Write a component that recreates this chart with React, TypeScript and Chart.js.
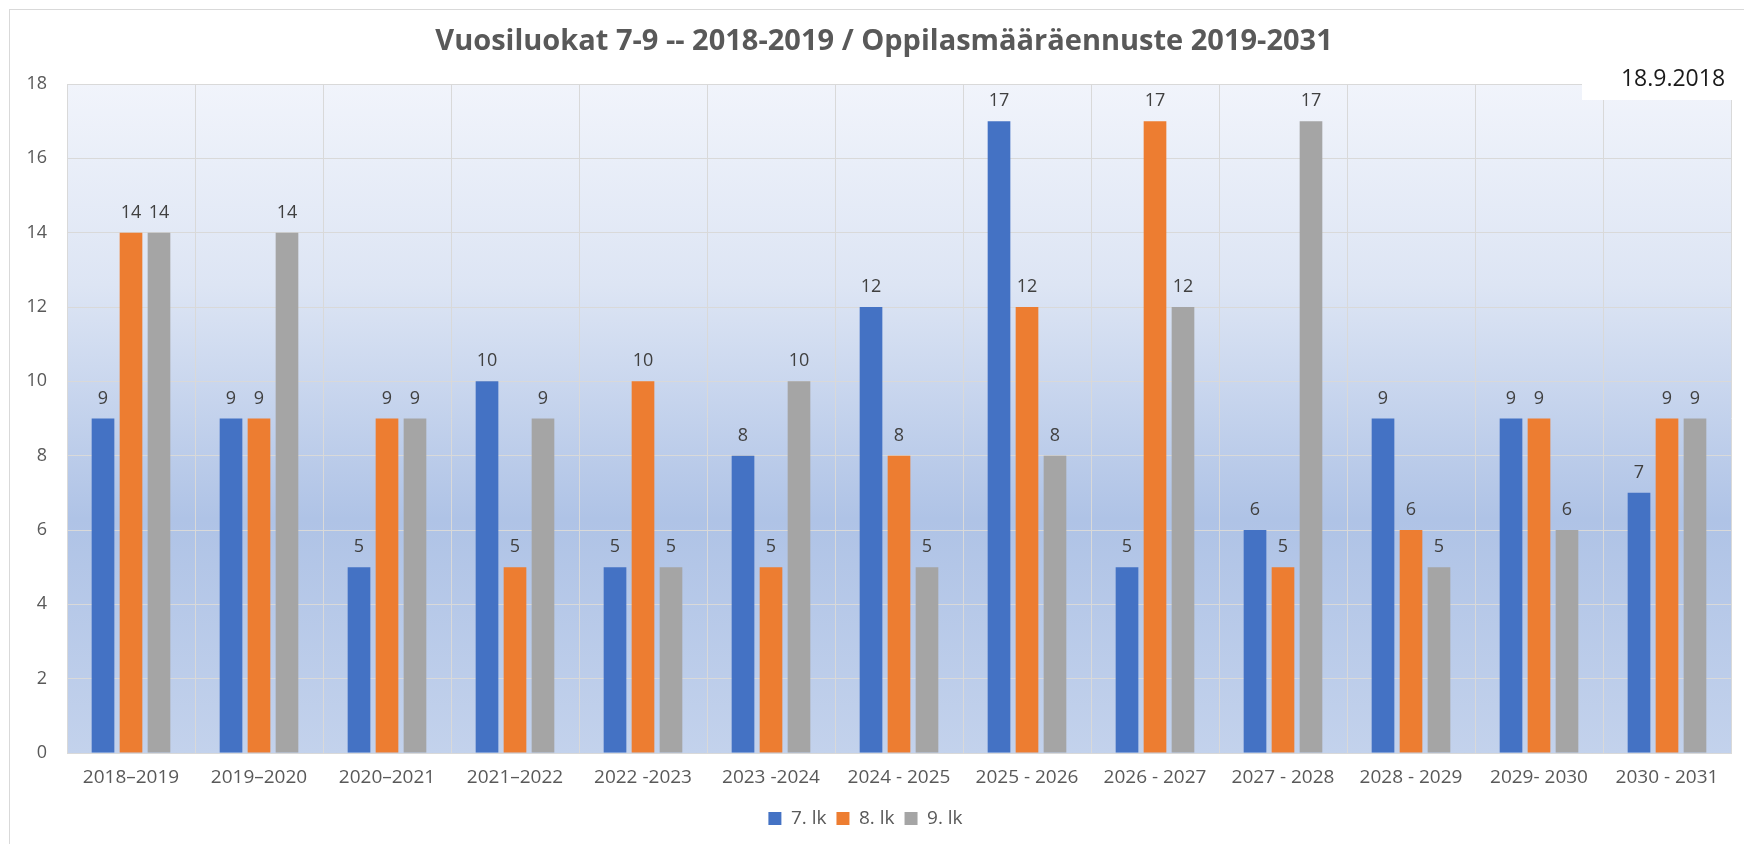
import React, { useEffect, useRef } from "react";
import { Chart, registerables } from "chart.js";

Chart.register(...registerables);

const TITLE = "Vuosiluokat 7-9 -- 2018-2019 / Oppilasmääräennuste 2019-2031";
const DATE_NOTE = "18.9.2018";

const categories = [
  "2018\u20132019",
  "2019\u20132020",
  "2020\u20132021",
  "2021\u20132022",
  "2022 -2023",
  "2023 -2024",
  "2024 - 2025",
  "2025 - 2026",
  "2026 - 2027",
  "2027 - 2028",
  "2028 - 2029",
  "2029- 2030",
  "2030 - 2031",
];

const seriesNames = ["7. lk", "8. lk", "9. lk"];
const grade7 = [9, 9, 5, 10, 5, 8, 12, 17, 5, 6, 9, 9, 7];
const grade8 = [14, 9, 9, 5, 10, 5, 8, 12, 17, 5, 6, 9, 9];
const grade9 = [14, 14, 9, 9, 5, 10, 5, 8, 12, 17, 5, 6, 9];
const seriesColors = ["#4472C4", "#ED7D31", "#A5A5A5"];

const yMin = 0;
const yMax = 18;
const yStep = 2;

const FONT = "'Open Sans', 'Noto Sans', sans-serif";

const backgroundPlugin = {
  id: "bgPlugin",
  beforeDraw(chart: any) {
    const { ctx, chartArea, width, height } = chart;
    ctx.save();
    ctx.fillStyle = "#ffffff";
    ctx.fillRect(0, 0, width, height);
    ctx.strokeStyle = "#d9d9d9";
    ctx.lineWidth = 1;
    ctx.strokeRect(9.5, 9.5, width + 20, height + 20);
    const g = ctx.createLinearGradient(0, chartArea.top, 0, chartArea.bottom);
    g.addColorStop(0, "#f1f4fb");
    g.addColorStop(0.3, "#dde5f4");
    g.addColorStop(0.65, "#afc3e6");
    g.addColorStop(1, "#c3d2ec");
    ctx.fillStyle = g;
    ctx.fillRect(chartArea.left, chartArea.top, chartArea.right - chartArea.left, chartArea.bottom - chartArea.top);
    ctx.fillStyle = "#595959";
    ctx.font = `bold 29px ${FONT}`;
    ctx.textAlign = "center";
    ctx.textBaseline = "middle";
    ctx.fillText(TITLE, 884, 42);
    ctx.restore();
  },
};

const labelsPlugin = {
  id: "valueLabels",
  afterDatasetsDraw(chart: any) {
    const { ctx } = chart;
    ctx.save();
    ctx.fillStyle = "#404040";
    ctx.font = `18px ${FONT}`;
    ctx.textAlign = "center";
    ctx.textBaseline = "middle";
    chart.data.datasets.forEach((ds: any, i: number) => {
      const meta = chart.getDatasetMeta(i);
      meta.data.forEach((el: any, j: number) => {
        ctx.fillText(String(ds.data[j]), el.x, el.y - 20);
      });
    });
    ctx.restore();
  },
  afterDraw(chart: any) {
    const { ctx } = chart;
    ctx.save();
    ctx.fillStyle = "#ffffff";
    ctx.fillRect(1582, 10, 150, 90);
    ctx.fillStyle = "#1a1a1a";
    ctx.font = `23px ${FONT}`;
    ctx.textAlign = "center";
    ctx.textBaseline = "middle";
    ctx.fillText(DATE_NOTE, 1673, 79);
    ctx.restore();
  },
};

export default function App() {
  const ref = useRef<HTMLCanvasElement | null>(null);

  useEffect(() => {
    if (!ref.current) return;
    const chart = new Chart(ref.current, {
      type: "bar",
      data: {
        labels: categories,
        datasets: [grade7, grade8, grade9].map((d, i) => ({
          label: seriesNames[i],
          data: d,
          backgroundColor: seriesColors[i],
          borderWidth: 0,
          barPercentage: 0.81,
          categoryPercentage: 0.656,
        })),
      },
      options: {
        animation: false,
        responsive: false,
        layout: { padding: { left: 0, right: 13, top: 84, bottom: 6 } },
        plugins: {
          title: { display: false },
          tooltip: { enabled: false },
          legend: {
            position: "bottom",
            labels: {
              boxWidth: 13,
              boxHeight: 13,
              padding: 10,
              color: "#595959",
              font: { family: FONT, size: 19 },
            },
          },
        },
        scales: {
          x: {
            offset: true,
            grid: { display: true, color: "#d9d9d9", offset: true, drawTicks: false },
            border: { display: true, color: "#d9d9d9" },
            ticks: { color: "#595959", font: { family: FONT, size: 19 }, padding: 13, maxRotation: 0, autoSkip: false },
            afterFit: (s: any) => {
              s.height = 46;
            },
          },
          y: {
            min: yMin,
            max: yMax,
            grid: { color: "#d9d9d9", drawTicks: false },
            border: { display: false },
            ticks: { stepSize: yStep, color: "#595959", font: { family: FONT, size: 18 }, padding: 20 },
            afterFit: (s: any) => {
              s.width = 67;
            },
          },
        },
      },
      plugins: [backgroundPlugin, labelsPlugin],
    });
    return () => chart.destroy();
  }, []);

  return (
    <div style={{ position: "absolute", left: 0, top: 0, width: 1744, height: 844 }}>
      <canvas ref={ref} width={1744} height={844} />
    </div>
  );
}
